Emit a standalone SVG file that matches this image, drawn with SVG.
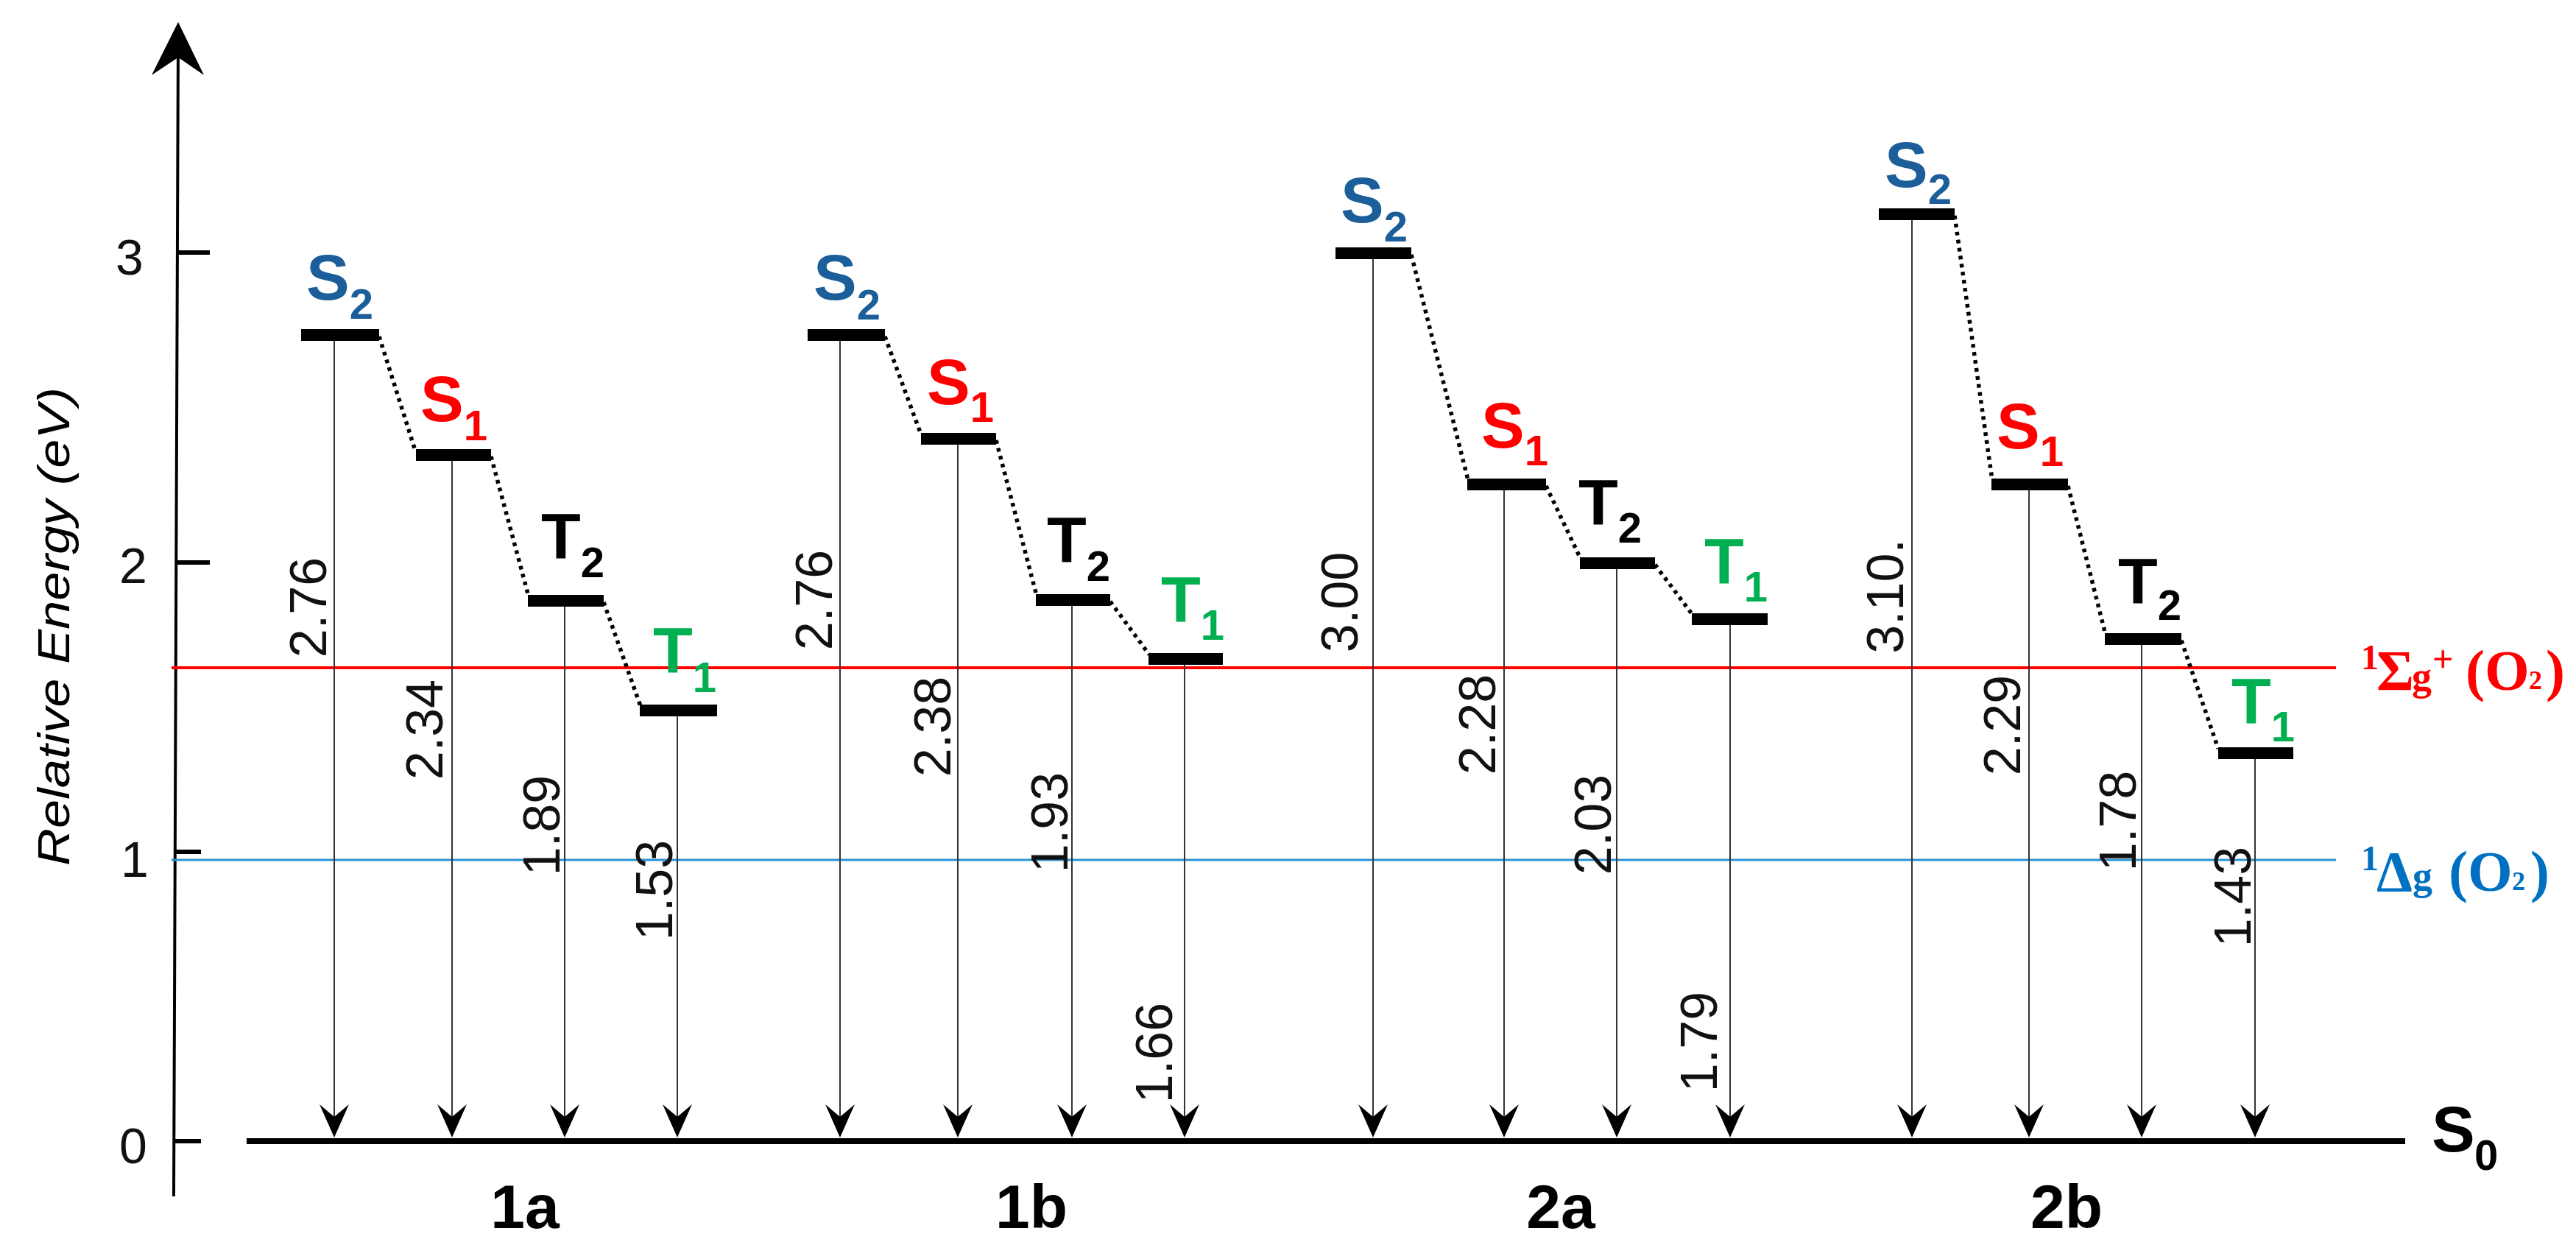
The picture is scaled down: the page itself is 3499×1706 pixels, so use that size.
<svg xmlns="http://www.w3.org/2000/svg" xmlns:xlink="http://www.w3.org/1999/xlink" width="3499" height="1706" viewBox="0 0 3499 1706">
<defs>
<style>
.bar{fill:#000}
.lbl{font-family:"Liberation Sans",Arial,sans-serif;font-weight:bold;font-size:88px}
.sub{font-size:58px}
.val{font-family:"Liberation Sans",Arial,sans-serif;font-size:70px;fill:#111;text-anchor:middle}
.tick{font-family:"Liberation Sans",Arial,sans-serif;font-size:68px;fill:#111;text-anchor:middle}
.grp{font-family:"Liberation Sans",Arial,sans-serif;font-weight:bold;font-size:84px;fill:#000;text-anchor:middle}
.dot{stroke:#000;stroke-width:5.5;stroke-dasharray:5 6;fill:none}
.arr{stroke:#333;stroke-width:2;fill:none}
.o2{font-family:"Liberation Serif","Times New Roman",serif;font-weight:bold}
.s2{fill:#1B5E99}.s1{fill:#FF0000}.t2{fill:#000}.t1{fill:#00B050}
</style>
<path id="ah" d="M0,0 L-20,-45 L0,-28 L20,-45 Z" fill="#000"/>
</defs>
<rect width="3499" height="1706" fill="#fff"/>

<g id="axis">
<line x1="242" y1="60" x2="236" y2="1625" stroke="#000" stroke-width="4"/>
<path d="M242,30 L206,102 L242,78 L277,102 Z" fill="#000"/>
<line x1="240" y1="343" x2="285" y2="343" stroke="#000" stroke-width="6"/>
<line x1="239" y1="764" x2="285" y2="764" stroke="#000" stroke-width="6"/>
<line x1="237" y1="1157" x2="273" y2="1157" stroke="#000" stroke-width="6"/>
<line x1="236" y1="1550" x2="273" y2="1550" stroke="#000" stroke-width="6"/>
<text class="tick" x="176" y="373">3</text>
<text class="tick" x="181" y="792">2</text>
<text class="tick" x="183" y="1191">1</text>
<text class="tick" x="181" y="1580">0</text>
<text transform="translate(94,851) rotate(-90)" font-family="'Liberation Sans',Arial,sans-serif" font-style="italic" font-size="62" text-anchor="middle" textLength="650" lengthAdjust="spacingAndGlyphs">Relative Energy (eV)</text>
</g>

<g id="o2-levels">
<line x1="233" y1="907" x2="3173" y2="907" stroke="#FF0000" stroke-width="4"/>
<line x1="233" y1="1168" x2="3173" y2="1168" stroke="#2A93D5" stroke-width="3"/>
<text class="o2" fill="#FF0000"><tspan x="3207" y="909" font-size="48">1</tspan><tspan x="3228" y="937" font-size="78">Σ</tspan><tspan x="3276" y="937" font-size="54">g</tspan><tspan x="3304" y="912" font-size="50">+</tspan><tspan x="3349" y="937" font-size="78">(O</tspan><tspan x="3435" y="936" font-size="36">2</tspan><tspan x="3458" y="937" font-size="78">)</tspan></text>
<text class="o2" fill="#0070C0"><tspan x="3207" y="1182" font-size="48">1</tspan><tspan x="3228" y="1210" font-size="78">Δ</tspan><tspan x="3277" y="1208" font-size="54">g</tspan><tspan x="3326" y="1210" font-size="78">(O</tspan><tspan x="3412" y="1209" font-size="36">2</tspan><tspan x="3437" y="1210" font-size="78">)</tspan></text>
</g>

<g id="connectors">
<line class="dot" x1="515" y1="457" x2="564" y2="612"/>
<line class="dot" x1="667" y1="620" x2="718" y2="810"/>
<line class="dot" x1="820" y1="818" x2="870" y2="959"/>
<line class="dot" x1="1202" y1="457" x2="1251" y2="590"/>
<line class="dot" x1="1353" y1="598" x2="1408" y2="809"/>
<line class="dot" x1="1508" y1="817" x2="1561" y2="889"/>
<line class="dot" x1="1917" y1="346" x2="1994" y2="652"/>
<line class="dot" x1="2100" y1="660" x2="2147" y2="759"/>
<line class="dot" x1="2248" y1="767" x2="2299" y2="835"/>
<line class="dot" x1="2655" y1="293" x2="2706" y2="652"/>
<line class="dot" x1="2809" y1="660" x2="2860" y2="862"/>
<line class="dot" x1="2963" y1="870" x2="3013" y2="1017"/>
<g class="arr">
<line x1="454" y1="455" x2="454" y2="1530"/><line x1="614" y1="618" x2="614" y2="1530"/><line x1="767" y1="816" x2="767" y2="1530"/><line x1="920" y1="965" x2="920" y2="1530"/>
<line x1="1141" y1="455" x2="1141" y2="1530"/><line x1="1301" y1="596" x2="1301" y2="1530"/><line x1="1456" y1="815" x2="1456" y2="1530"/><line x1="1609" y1="895" x2="1609" y2="1530"/>
<line x1="1865" y1="344" x2="1865" y2="1530"/><line x1="2043" y1="658" x2="2043" y2="1530"/><line x1="2196" y1="765" x2="2196" y2="1530"/><line x1="2350" y1="841" x2="2350" y2="1530"/>
<line x1="2597" y1="291" x2="2597" y2="1530"/><line x1="2756" y1="658" x2="2756" y2="1530"/><line x1="2909" y1="868" x2="2909" y2="1530"/><line x1="3063" y1="1023" x2="3063" y2="1530"/>
</g>
<use xlink:href="#ah" href="#ah" x="454" y="1545"/><use xlink:href="#ah" href="#ah" x="614" y="1545"/><use xlink:href="#ah" href="#ah" x="767" y="1545"/><use xlink:href="#ah" href="#ah" x="920" y="1545"/>
<use xlink:href="#ah" href="#ah" x="1141" y="1545"/><use xlink:href="#ah" href="#ah" x="1301" y="1545"/><use xlink:href="#ah" href="#ah" x="1456" y="1545"/><use xlink:href="#ah" href="#ah" x="1609" y="1545"/>
<use xlink:href="#ah" href="#ah" x="1865" y="1545"/><use xlink:href="#ah" href="#ah" x="2043" y="1545"/><use xlink:href="#ah" href="#ah" x="2196" y="1545"/><use xlink:href="#ah" href="#ah" x="2350" y="1545"/>
<use xlink:href="#ah" href="#ah" x="2597" y="1545"/><use xlink:href="#ah" href="#ah" x="2756" y="1545"/><use xlink:href="#ah" href="#ah" x="2909" y="1545"/><use xlink:href="#ah" href="#ah" x="3063" y="1545"/>
<text class="val" transform="translate(443,825) rotate(-90)">2.76</text>
<text class="val" transform="translate(601,991) rotate(-90)">2.34</text>
<text class="val" transform="translate(760,1121) rotate(-90)">1.89</text>
<text class="val" transform="translate(913,1209) rotate(-90)">1.53</text>
<text class="val" transform="translate(1130,815) rotate(-90)">2.76</text>
<text class="val" transform="translate(1291,987) rotate(-90)">2.38</text>
<text class="val" transform="translate(1450,1117) rotate(-90)">1.93</text>
<text class="val" transform="translate(1592,1430) rotate(-90)">1.66</text>
<text class="val" transform="translate(1844,818) rotate(-90)">3.00</text>
<text class="val" transform="translate(2031,984) rotate(-90)">2.28</text>
<text class="val" transform="translate(2188,1120) rotate(-90)">2.03</text>
<text class="val" transform="translate(2332,1415) rotate(-90)">1.79</text>
<text class="val" transform="translate(2585,810) rotate(-90)">3.10.</text>
<text class="val" transform="translate(2744,985) rotate(-90)">2.29</text>
<text class="val" transform="translate(2901,1115) rotate(-90)">1.78</text>
<text class="val" transform="translate(3057,1218) rotate(-90)">1.43</text>
</g>

<g id="S0">
<rect x="335" y="1546" width="2932" height="8" fill="#000"/>
<text class="lbl" x="3303" y="1564">S<tspan class="sub" x="3361" y="1589">0</tspan></text>
</g>

<g id="n1a-S2"><rect class="bar" x="409" y="447" width="106" height="16"/><text class="lbl s2" x="416" y="407">S<tspan class="sub" dy="26">2</tspan></text></g>
<g id="n1a-S1"><rect class="bar" x="565" y="610" width="102" height="16"/><text class="lbl s1" x="571" y="572">S<tspan class="sub" dy="26">1</tspan></text></g>
<g id="n1a-T2"><rect class="bar" x="717" y="808" width="103" height="16"/><text class="lbl t2" x="735" y="758">T<tspan class="sub" dy="26">2</tspan></text></g>
<g id="n1a-T1"><rect class="bar" x="869" y="957" width="105" height="16"/><text class="lbl t1" x="887" y="913">T<tspan class="sub" dy="27">1</tspan></text></g>

<g id="n1b-S2"><rect class="bar" x="1097" y="447" width="105" height="16"/><text class="lbl s2" x="1105" y="407">S<tspan class="sub" dy="27">2</tspan></text></g>
<g id="n1b-S1"><rect class="bar" x="1251" y="588" width="102" height="16"/><text class="lbl s1" x="1259" y="549">S<tspan class="sub" dy="24">1</tspan></text></g>
<g id="n1b-T2"><rect class="bar" x="1407" y="807" width="101" height="16"/><text class="lbl t2" x="1422" y="763">T<tspan class="sub" dy="26">2</tspan></text></g>
<g id="n1b-T1"><rect class="bar" x="1560" y="887" width="101" height="16"/><text class="lbl t1" x="1577" y="844">T<tspan class="sub" dy="25">1</tspan></text></g>

<g id="n2a-S2"><rect class="bar" x="1814" y="336" width="103" height="16"/><text class="lbl s2" x="1821" y="302">S<tspan class="sub" dy="26">2</tspan></text></g>
<g id="n2a-S1"><rect class="bar" x="1993" y="650" width="107" height="16"/><text class="lbl s1" x="2012" y="608">S<tspan class="sub" dy="24">1</tspan></text></g>
<g id="n2a-T2"><rect class="bar" x="2146" y="757" width="102" height="16"/><text class="lbl t2" x="2144" y="712">T<tspan class="sub" dy="25">2</tspan></text></g>
<g id="n2a-T1"><rect class="bar" x="2298" y="833" width="103" height="16"/><text class="lbl t1" x="2315" y="792">T<tspan class="sub" dy="25">1</tspan></text></g>

<g id="n2b-S2"><rect class="bar" x="2552" y="283" width="103" height="16"/><text class="lbl s2" x="2560" y="254">S<tspan class="sub" dy="23">2</tspan></text></g>
<g id="n2b-S1"><rect class="bar" x="2705" y="650" width="104" height="16"/><text class="lbl s1" x="2712" y="609">S<tspan class="sub" dy="24">1</tspan></text></g>
<g id="n2b-T2"><rect class="bar" x="2859" y="860" width="104" height="16"/><text class="lbl t2" x="2877" y="819">T<tspan class="sub" dy="23">2</tspan></text></g>
<g id="n2b-T1"><rect class="bar" x="3013" y="1015" width="102" height="16"/><text class="lbl t1" x="3031" y="982">T<tspan class="sub" dy="25">1</tspan></text></g>

<g id="group-labels">
<text class="grp" x="713" y="1668">1a</text>
<text class="grp" x="1401" y="1668">1b</text>
<text class="grp" x="2120" y="1668">2a</text>
<text class="grp" x="2807" y="1668">2b</text>
</g>
</svg>
